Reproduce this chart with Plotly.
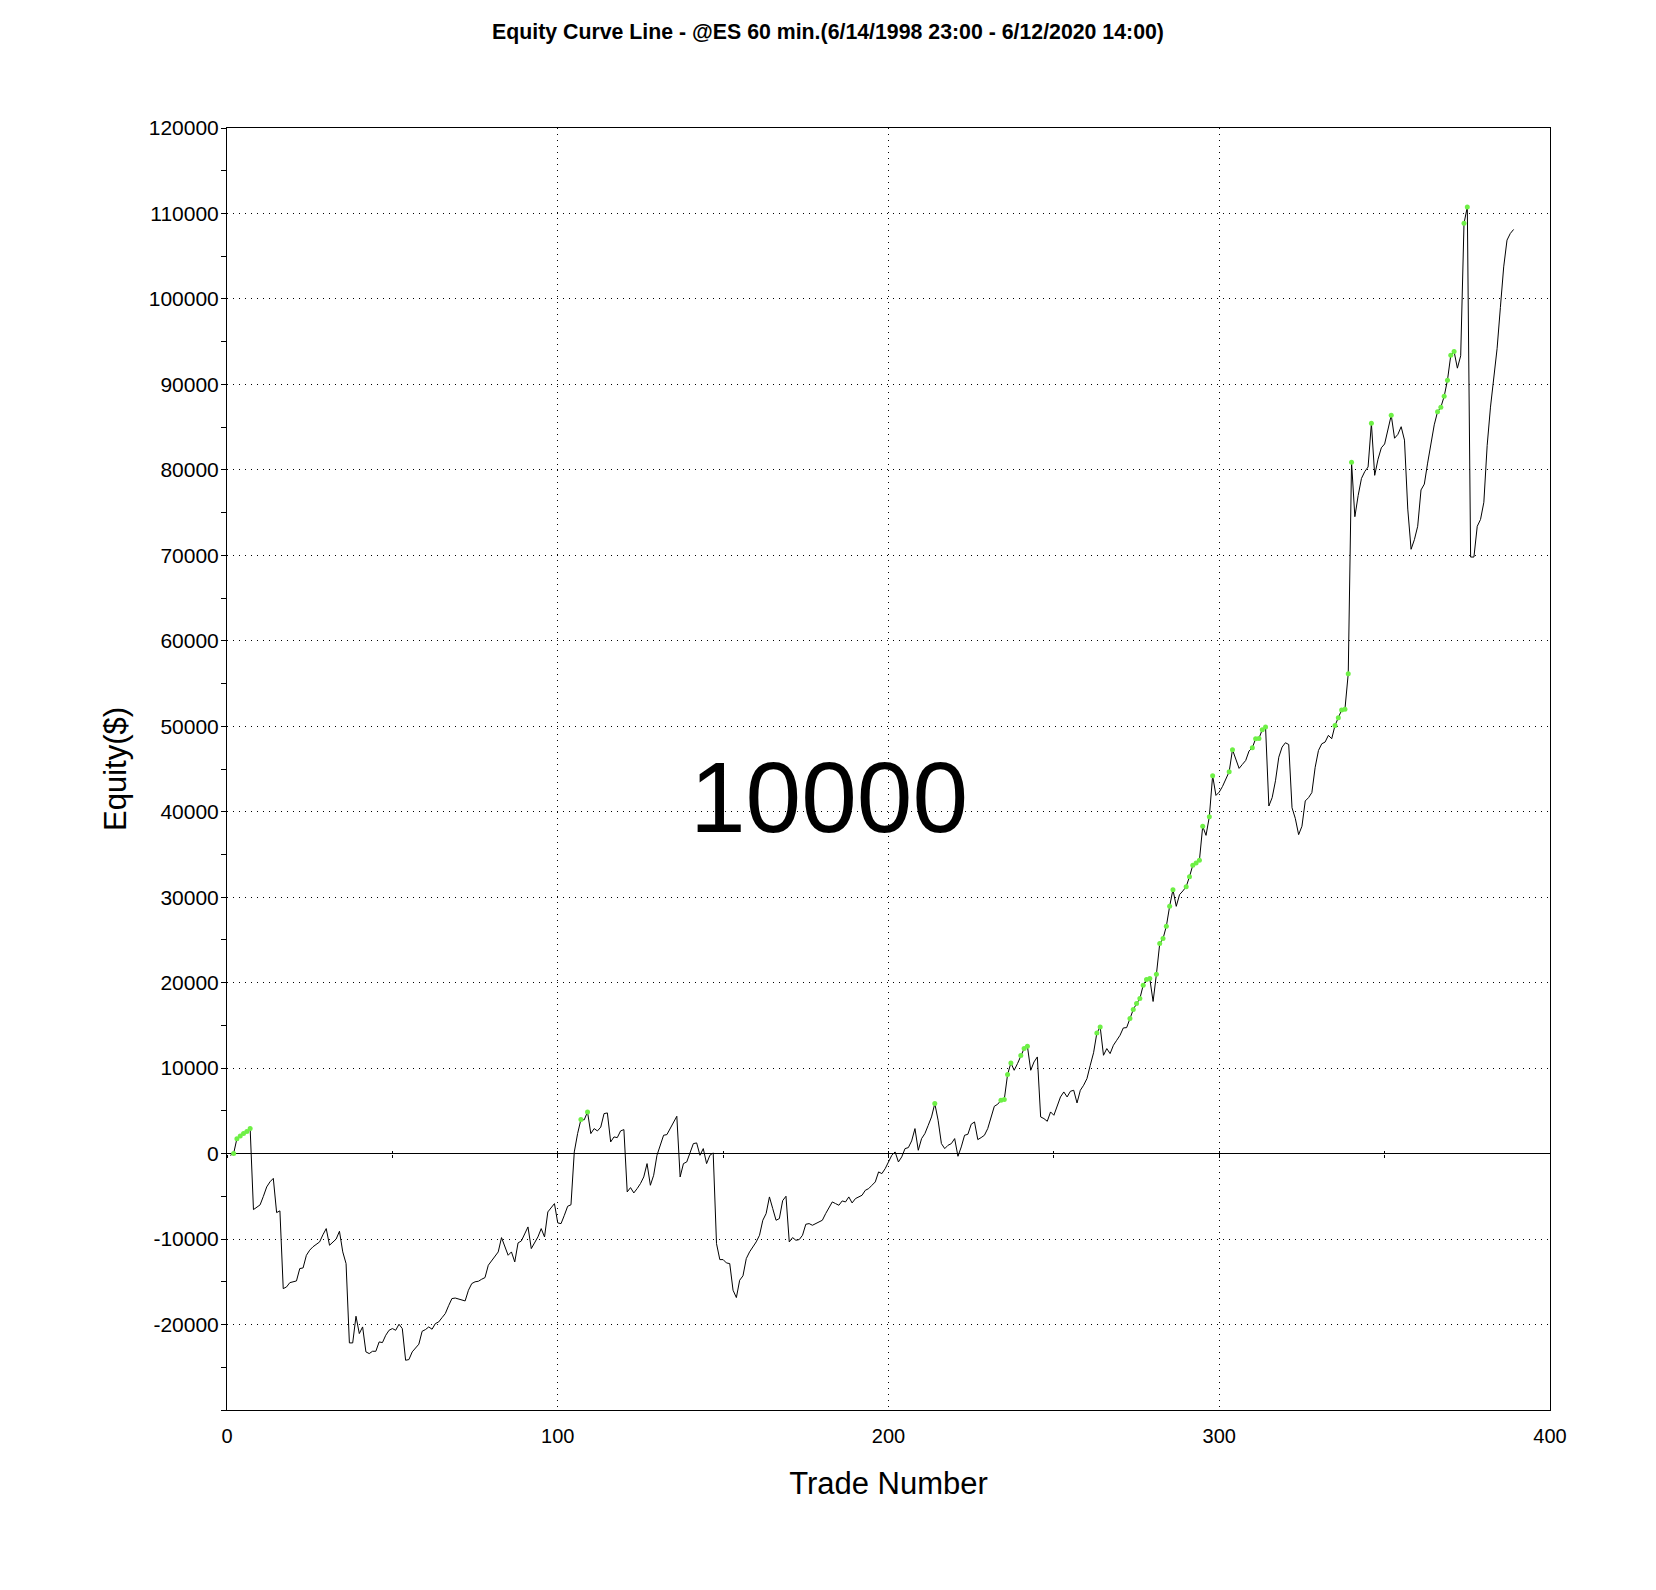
import plotly.graph_objects as go

# ---- data ----
trades = list(range(1, 390))

equity = [
    -200, 0, 1750, 2050, 2350, 2600, 2950, -6550, -6300, -6000,
    -5000, -3900, -3300, -2900, -6900, -6700, -15800, -15600, -15100, -15000,
    -14900, -13450, -13380, -11900, -11300, -10900, -10600, -10335, -9500, -8775,
    -10725, -10400, -10000, -9087, -11500, -12870, -22150, -22150, -19030, -21060,
    -20280, -23200, -23400, -23130, -23130, -22035, -22110, -21255, -20670, -20475,
    -20670, -19970, -20475, -24180, -24100, -23200, -22700, -22300, -20790, -20590,
    -20280, -20550, -19890, -19695, -19200, -18720, -17800, -16965, -16900, -17000,
    -17160, -17238, -15990, -15210, -15000, -14937, -14700, -14508, -13065, -12500,
    -12012, -11505, -9828, -11000, -11895, -11505, -12675, -10452, -10218, -9400,
    -8580, -11115, -10400, -9750, -8775, -9750, -6825, -6300, -5850, -8112,
    -8190, -7215, -6162, -5990, 195, 2340, 3978, 3950, 4875, 2340,
    2925, 2652, 3100, 4680, 4758, 1365, 1950, 1872, 2652, 2808,
    -4485, -3978, -4602, -4095, -3510, -2730, -1170, -3705, -2535, -195,
    975, 2145, 2223, 2925, 3705, 4368, -2730, -1170, -975, 195,
    1170, 1248, -195, 585, -1170, -195, 78, -10530, -12402, -12402,
    -12792, -12870, -15990, -16848, -14820, -14300, -12285, -11500, -10920, -10335,
    -9555, -7800, -7020, -5070, -6435, -7800, -7605, -5500, -4992, -10335,
    -9828, -10140, -10062, -9555, -8268, -8190, -8385, -8190, -8000, -7800,
    -7020, -6300, -5655, -5850, -6045, -5538, -5655, -5070, -5772, -5265,
    -5070, -4875, -4290, -4095, -3705, -3315, -2145, -2340, -1755, -900,
    -195, 195, -975, -390, 585, 702, 1482, 2925, 390, 1755,
    2340, 3300, 4290, 5850, 3900, 1170, 585, 975, 1170, 1755,
    -312, 780, 2145, 2262, 3432, 3705, 1638, 1872, 2145, 2925,
    4290, 5538, 5772, 6240, 6318, 9243, 10608, 9750, 10530, 11466,
    12285, 12558, 9750, 10725, 11310, 4290, 4095, 3783, 4875, 4485,
    5655, 6630, 7215, 6630, 7293, 7410, 5928, 7410, 8000, 8775,
    10335, 11800, 14118, 14820, 11505, 12285, 11700, 12675, 13260, 13845,
    14703, 14742, 15795, 16848, 17550, 18135, 19695, 20358, 20475, 17800,
    20982, 24570, 25155, 26600, 28930, 30880, 28930, 30300, 30730, 31230,
    32400, 33730, 34000, 34310, 38290, 37235, 39420, 44215, 41910, 42300,
    42970, 43860, 44680, 47255, 46200, 45070, 45540, 46000, 47100, 47490,
    48540, 48580, 49600, 49900, 40670, 41650, 43620, 46380, 47560, 48070,
    47870, 40470, 39210, 37320, 38300, 41260, 41650, 42240, 45200, 47170,
    47950, 48150, 48940, 48540, 50100, 51000, 51900, 52000, 56150, 80880,
    74520, 77000, 79000, 79800, 80340, 85450, 79360, 81240, 82580, 83030,
    84820, 86390, 83700, 84150, 85050, 83480, 75410, 70710, 71830, 73400,
    77650, 78330, 80790, 83030, 85270, 86800, 87330, 88600, 90500, 93400,
    93850, 91900, 93350, 108850, 110750, 69800, 69800, 73400, 74200, 76210,
    82850, 87340, 90500, 94180, 99000, 103750, 106880, 107660, 108130,
]

# trades that set a new equity high (green dots)
new_high_trades = [
    2, 3, 4, 5, 6, 7, 107, 109, 214, 234, 235, 236, 237, 240, 241, 242,
    263, 264, 273, 274, 275, 276, 277, 278, 279, 281, 282, 283, 284, 285, 286,
    290, 291, 292, 293, 294, 295, 297, 298, 303, 304, 310, 311, 312, 313, 314,
    335, 336, 337, 338, 339, 340, 346, 352, 366, 367, 368, 369, 370, 371, 374, 375,
]

y_tick_values = list(range(-20000, 120001, 10000))
y_tick_labels = [str(v) for v in y_tick_values]
x_tick_values = [0, 100, 200, 300, 400]
x_tick_labels = ["0", "100", "200", "300", "400"]

title_text = "Equity Curve Line - @ES 60 min.(6/14/1998 23:00 - 6/12/2020 14:00)"
center_text = "10000"

# ---- figure ----
high_x = new_high_trades
high_y = [equity[trades.index(t)] for t in new_high_trades]

FONT = "Liberation Sans, Arial, sans-serif"

fig = go.Figure()
fig.add_trace(go.Scatter(
    x=trades, y=equity, mode="lines",
    line=dict(color="black", width=1),
    showlegend=False, hoverinfo="x+y",
))
fig.add_trace(go.Scatter(
    x=high_x, y=high_y, mode="markers",
    marker=dict(color="#6EF046", size=5, line=dict(width=0)),
    showlegend=False, hoverinfo="x+y",
))
# invisible helpers so the tick rows on the zero line are drawn
for ax in ["x2", "x3"]:
    fig.add_trace(go.Scatter(
        x=trades[:1], y=equity[:1], xaxis=ax, mode="markers",
        marker=dict(opacity=0), showlegend=False, hoverinfo="skip",
    ))

fig.update_layout(
    width=1656, height=1590,
    paper_bgcolor="white", plot_bgcolor="white",
    margin=dict(l=227, r=106, t=128, b=180),
    font=dict(family=FONT, color="black", size=20),
    title=dict(
        text=title_text, x=0.5, xref="container", xanchor="center",
        y=1 - 32 / 1590, yref="container", yanchor="middle",
        font=dict(family=FONT, size=21.3, weight="bold", color="black"),
    ),
    xaxis=dict(
        range=[0, 400], tickvals=x_tick_values, ticktext=x_tick_labels,
        showgrid=True, gridcolor="black", gridwidth=1, griddash="1px,5px",
        zeroline=False, showline=True, linecolor="black", linewidth=1,
        mirror=True, ticks="", ticklabelstandoff=8,
        tickfont=dict(family=FONT, size=20),
        title=dict(text="Trade Number", font=dict(family=FONT, size=31), standoff=26),
    ),
    xaxis2=dict(
        overlaying="x", anchor="free", position=0.2, range=[0, 400],
        dtick=50, tick0=0, ticks="outside", ticklen=3, tickcolor="black",
        showticklabels=False, showgrid=False, zeroline=False, showline=False,
    ),
    xaxis3=dict(
        overlaying="x", anchor="free", position=0.2, range=[0, 400],
        dtick=50, tick0=0, ticks="inside", ticklen=3, tickcolor="black",
        showticklabels=False, showgrid=False, zeroline=False, showline=False,
    ),
    yaxis=dict(
        range=[-30000, 120000], tickvals=y_tick_values, ticktext=y_tick_labels,
        showgrid=True, gridcolor="black", gridwidth=1, griddash="1px,5px",
        zeroline=True, zerolinecolor="black", zerolinewidth=1,
        showline=True, linecolor="black", linewidth=1, mirror=True,
        ticks="outside", ticklen=5, tickcolor="black", ticklabelstandoff=-2,
        minor=dict(dtick=5000, tick0=0, ticks="outside", ticklen=5,
                   tickcolor="black", showgrid=False),
        tickfont=dict(family=FONT, size=21),
        title=dict(text="Equity($)", font=dict(family=FONT, size=31), standoff=12),
    ),
    annotations=[dict(
        text=center_text, xref="paper", yref="paper", x=0.455, y=0.478,
        xanchor="center", yanchor="middle", showarrow=False,
        font=dict(family=FONT, size=100, color="black"),
    )],
)

fig.write_html(
    "out.html", include_plotlyjs=True, full_html=True,
    config={"displayModeBar": False},
    post_script="document.body.style.margin='0';",
)
